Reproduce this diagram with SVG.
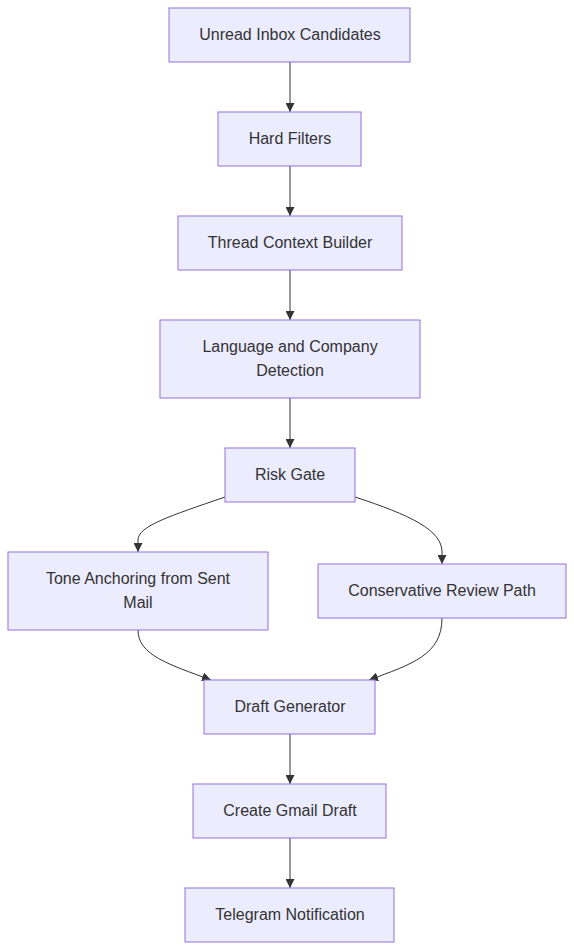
<svg xmlns="http://www.w3.org/2000/svg" width="574" height="950" viewBox="0 0 574 950">
<style>
.node rect{fill:#ECECFF;stroke:#9370DB;stroke-width:1px}
.node text{font-family:"Liberation Sans",Arial,sans-serif;font-size:16px;fill:#333;text-anchor:middle;dominant-baseline:central}
.edge{fill:none;stroke:#333;stroke-width:1px}
</style>
<defs>
<marker id="arrow" markerUnits="userSpaceOnUse" viewBox="0 0 10 10" refX="10" refY="5" markerWidth="9" markerHeight="9" orient="auto">
<path d="M0,0 L10,5 L0,10 z" fill="#333"/>
</marker>
</defs>
<rect width="574" height="950" fill="#fff"/>
<g id="connectors">
<path class="edge" marker-end="url(#arrow)" d="M290,62 L290,112"/>
<path class="edge" marker-end="url(#arrow)" d="M290,166 L290,216"/>
<path class="edge" marker-end="url(#arrow)" d="M290,270 L290,320"/>
<path class="edge" marker-end="url(#arrow)" d="M290,398 L290,448"/>
<path class="edge" marker-end="url(#arrow)" d="M225,497 C170,516 138,526 138,540 L138,552"/>
<path class="edge" marker-end="url(#arrow)" d="M355,497 C410,515 442,530 442,552 L442,564"/>
<path class="edge" marker-end="url(#arrow)" d="M138,630 C138,655 168,664 211,680"/>
<path class="edge" marker-end="url(#arrow)" d="M442,618 C442,655 412,664 369,680"/>
<path class="edge" marker-end="url(#arrow)" d="M290,734 L290,784"/>
<path class="edge" marker-end="url(#arrow)" d="M290,838 L290,888"/>
</g>
<g id="n1" class="node"><rect x="169" y="8" width="241" height="54"/><text x="290" y="34">Unread Inbox Candidates</text></g>
<g id="n2" class="node"><rect x="218" y="112" width="143" height="54"/><text x="290" y="138">Hard Filters</text></g>
<g id="n3" class="node"><rect x="178" y="216" width="224" height="54"/><text x="290" y="242">Thread Context Builder</text></g>
<g id="n4" class="node"><rect x="160" y="320" width="260" height="78"/><text x="290" y="346">Language and Company</text><text x="290" y="370">Detection</text></g>
<g id="n5" class="node"><rect x="225" y="448" width="130" height="54"/><text x="290" y="474">Risk Gate</text></g>
<g id="n6" class="node"><rect x="8" y="552" width="260" height="78"/><text x="138" y="578">Tone Anchoring from Sent</text><text x="138" y="602">Mail</text></g>
<g id="n7" class="node"><rect x="318" y="564" width="248" height="54"/><text x="442" y="590">Conservative Review Path</text></g>
<g id="n8" class="node"><rect x="204" y="680" width="171" height="54"/><text x="290" y="706">Draft Generator</text></g>
<g id="n9" class="node"><rect x="193" y="784" width="193" height="54"/><text x="290" y="810">Create Gmail Draft</text></g>
<g id="n10" class="node"><rect x="185" y="888" width="209" height="54"/><text x="290" y="914">Telegram Notification</text></g>
</svg>
